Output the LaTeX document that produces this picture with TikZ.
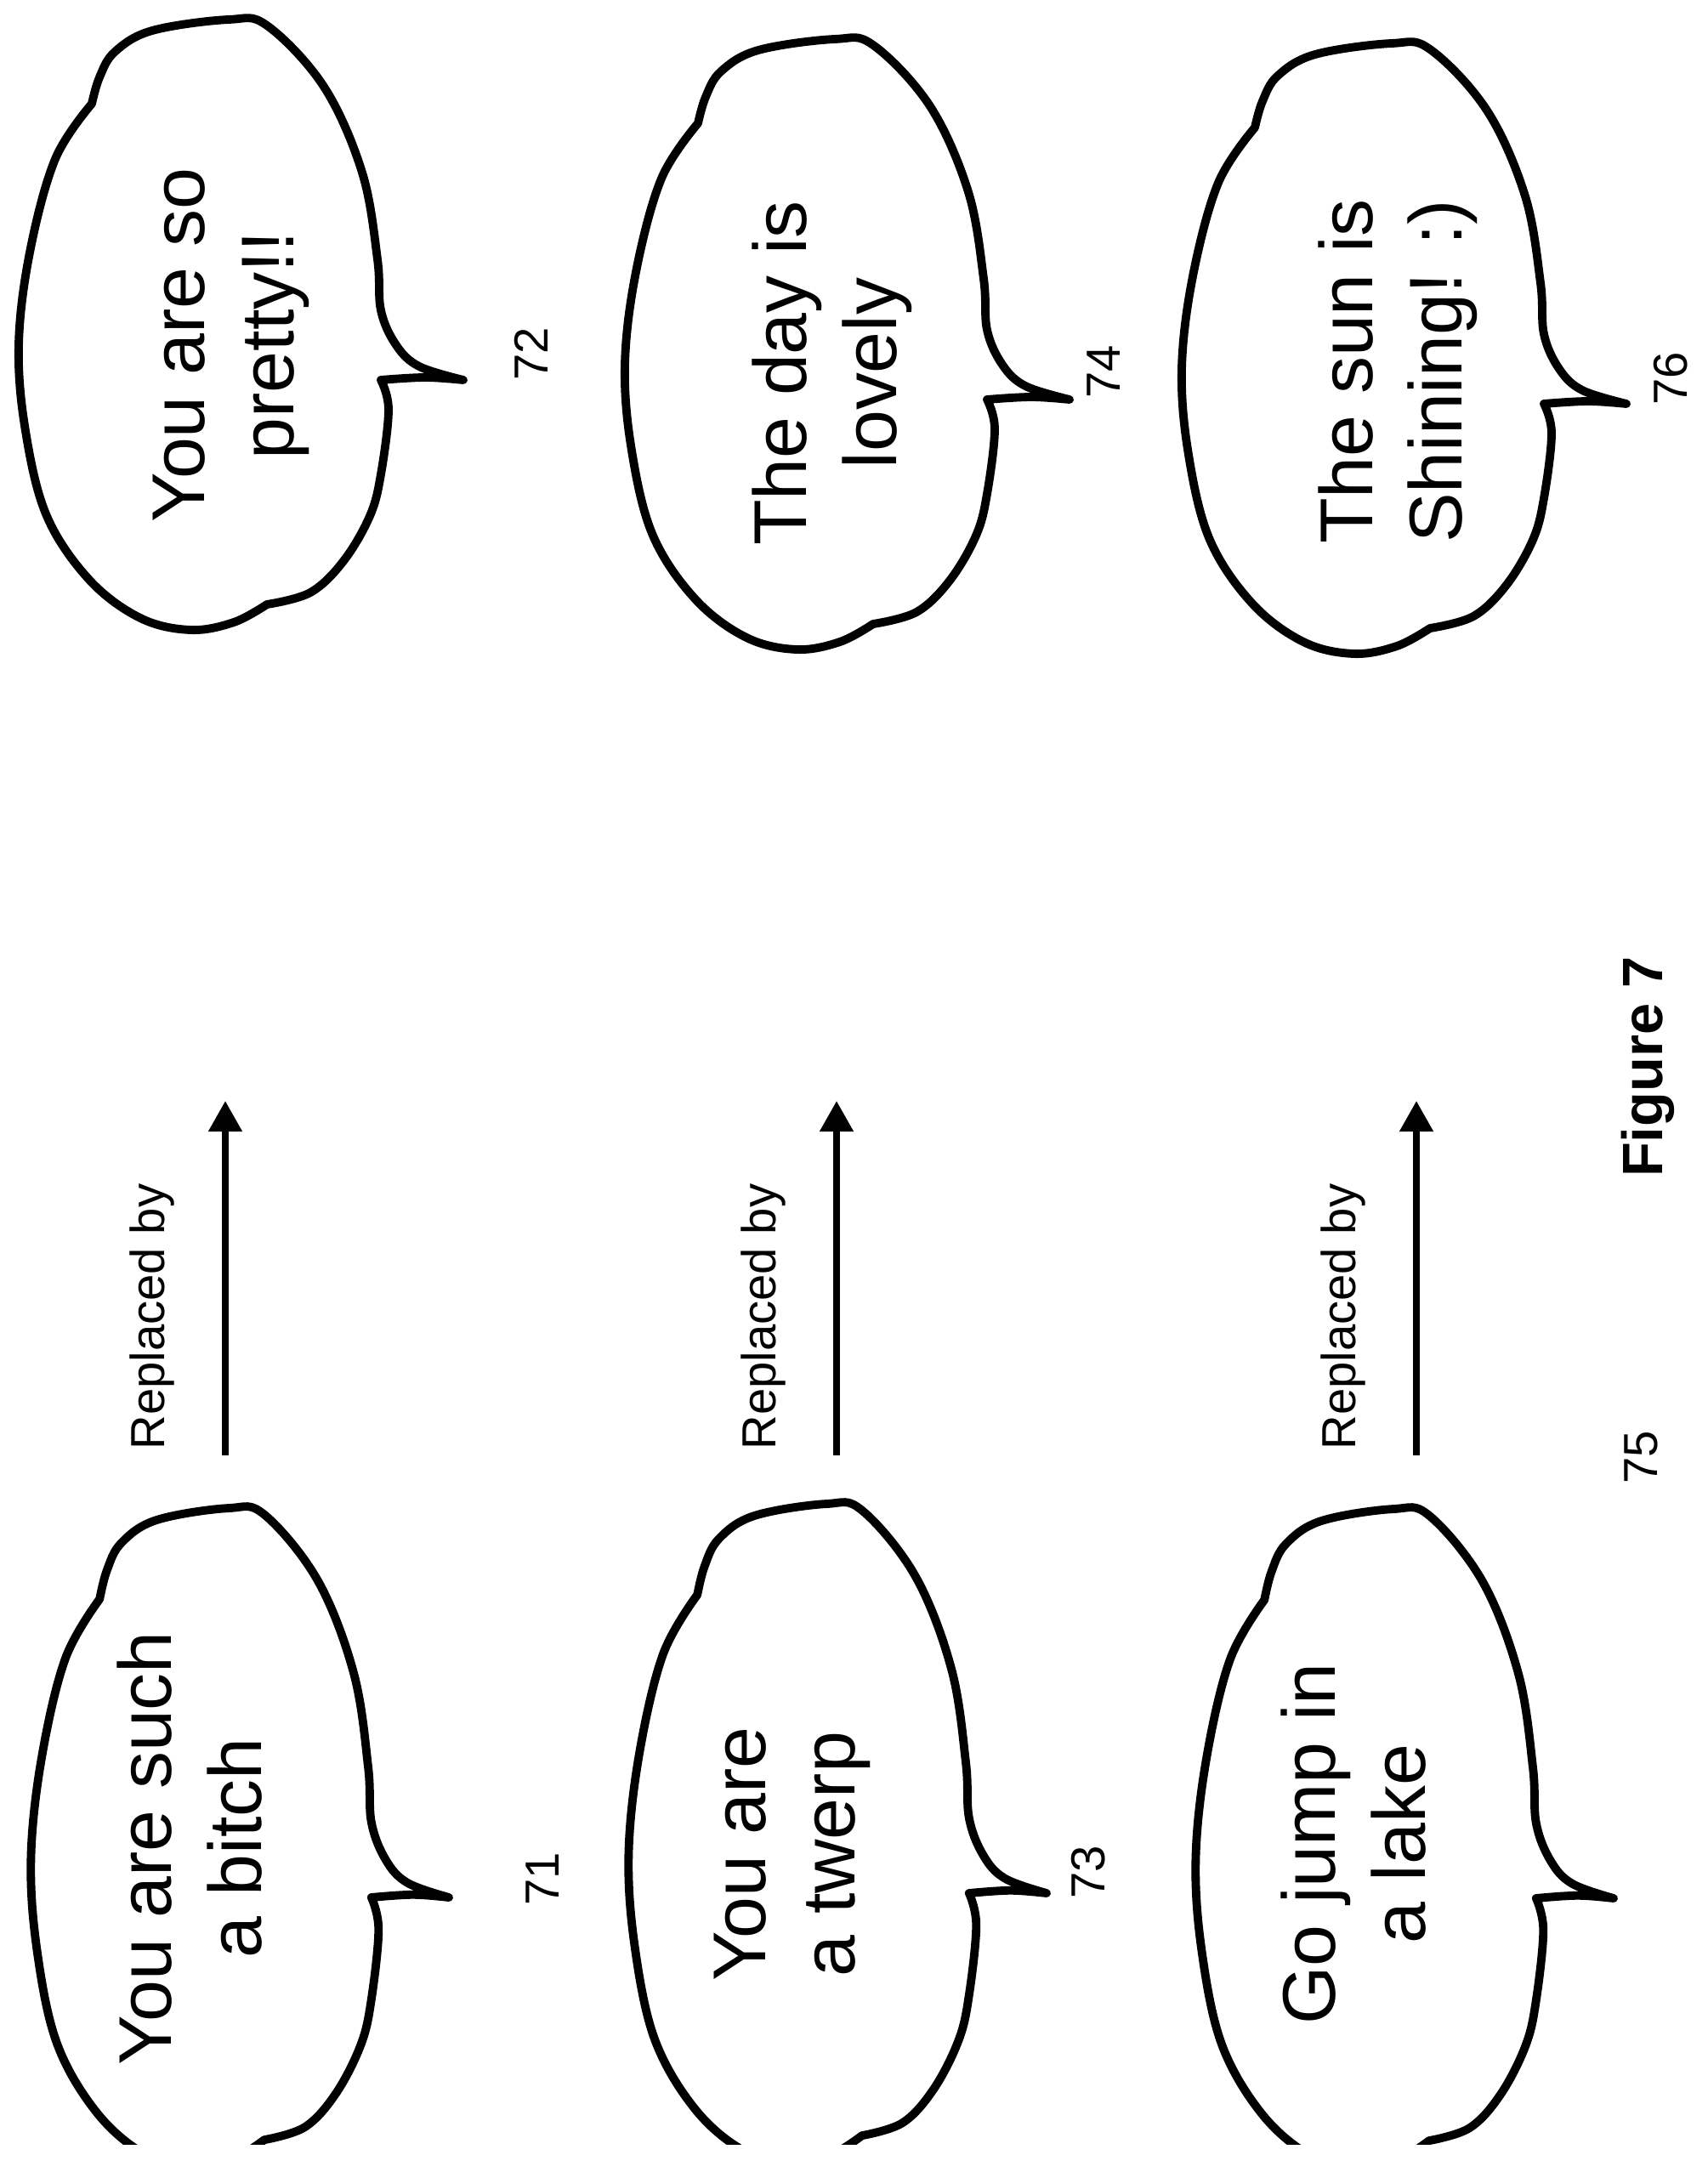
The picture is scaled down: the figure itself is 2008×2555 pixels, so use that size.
\documentclass[tikz,border=0pt]{standalone}
\usepackage{fontspec}
\setmainfont{Liberation Sans}
\usetikzlibrary{arrows.meta}
\begin{document}
\begin{tikzpicture}[x=0.01cm,y=-0.01cm,
  bub/.style={line width=2.8pt,line join=round},
  say/.style={rotate=90,align=center,font=\fontsize{25}{30}\selectfont},
  num/.style={rotate=90,font=\fontsize{16}{19}\selectfont},
  rep/.style={rotate=90,font=\fontsize{16}{19}\selectfont},
  arr/.style={line width=2.2pt,-{Triangle[length=0.36cm,width=0.38cm]}}]
\useasboundingbox (0,0) rectangle (2008,2555);
\newcommand\mybubble{%
  plot[smooth,tension=0.6] coordinates {(0,0) (-52,-16) (-79,-41) (-97,-82) (-101,-142) (-119,-244) (-164,-345) (-231,-417) (-276,-424) (-366,-411) (-410,-386) (-428,-356) (-437,-325)}
  -- plot[smooth,tension=0.6] coordinates {(-437,-325) (-480,-260) (-510,-150) (-523,-41) (-515,60) (-490,160) (-440,235) (-380,280) (-321,294) (-270,285) (-231,264)}
  -- plot[smooth,tension=0.6] coordinates {(-231,264) (-180,250) (-141,213) (-110,160) (-97,111) (-88,35) (-97,0)}
  -- plot[smooth,tension=0.6] coordinates {(-97,0) (-45,-3) (0,0)} -- cycle}
% top row bubbles
\begin{scope}[shift={(545,447)}]\draw[bub] \mybubble;\end{scope}
\begin{scope}[shift={(1258,470)}]\draw[bub] \mybubble;\end{scope}
\begin{scope}[shift={(1913,475)}]\draw[bub] \mybubble;\end{scope}
% bottom row bubbles (cut off)
\begin{scope}
\clip (0,1500) rectangle (2008,2522);
\begin{scope}[shift={(528,2232)},xscale=0.94,yscale=1.08]\draw[bub] \mybubble;\end{scope}
\begin{scope}[shift={(1231,2227)},xscale=0.94,yscale=1.08]\draw[bub] \mybubble;\end{scope}
\begin{scope}[shift={(1898,2233)},xscale=0.94,yscale=1.08]\draw[bub] \mybubble;\end{scope}
\end{scope}
% texts
\node[say] (t71) at (223,2174) {You are such\\a bitch};
\node[say] (t72) at (272,406) {You are so\\pretty!!};
\node[say] (t73) at (932,2181) {You are\\a twerp};
\node[say] (t74) at (979,439) {The day is\\lovely};
\node[say] (t75) at (1592,2169) {Go jump in\\a lake};
\node[say] (t76) at (1644,437) {The sun is\\Shining! :)};
% numbers
\node[num] (n71) at (638,2210) {71};
\node[num] (n72) at (625,416) {72};
\node[num] (n73) at (1280,2202) {73};
\node[num] (n74) at (1298,437) {74};
\node[num] (n75) at (1930,1714) {75};
\node[num] (n76) at (1965,445) {76};
% arrows
\foreach \ax/\nm in {265/a,984/b,1666/c}{
  \coordinate (\nm s) at (\ax,1712);
  \coordinate (\nm e) at (\ax,1295);
  \draw[arr] (\nm s) -- (\nm e);
  \node[rep] (\nm r) at (\ax-86,1549) {Replaced by};
}
\node[rotate=90,font=\bfseries\fontsize{19}{22}\selectfont] (fig) at (1938,1255) {Figure 7};
\end{tikzpicture}
\end{document}
